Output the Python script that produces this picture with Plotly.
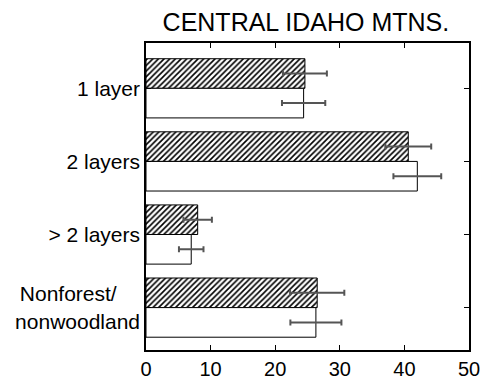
import plotly.graph_objects as go

categories = ["1 layer", "2 layers", "> 2 layers", "Nonforest/\u00a0\u00a0\u00a0\u00a0<br>nonwoodland"]
hatched_values = [24.6, 40.6, 8.0, 26.5]
hatched_errors = [3.4, 3.55, 2.2, 4.2]
open_values = [24.4, 42.0, 7.0, 26.3]
open_errors = [3.35, 3.7, 1.9, 3.95]
x_ticks = [0, 10, 20, 30, 40, 50]

fig = go.Figure()
fig.add_trace(go.Bar(
    y=categories, x=hatched_values, orientation="h",
    marker=dict(color="white", line=dict(color="black", width=1),
                pattern=dict(shape="/", fgcolor="black", bgcolor="white", size=4, solidity=0.4)),
    error_x=dict(type="data", array=hatched_errors, color="#555555", thickness=2, width=3),
    showlegend=False,
))
fig.add_trace(go.Bar(
    y=categories, x=open_values, orientation="h",
    marker=dict(color="white", line=dict(color="black", width=1)),
    error_x=dict(type="data", array=open_errors, color="#555555", thickness=2, width=3),
    showlegend=False,
))

fig.update_layout(
    template="none",
    width=485, height=371,
    margin=dict(l=138, r=24, t=35, b=29, autoexpand=False),
    barmode="group", bargap=0.19, bargroupgap=0,
    plot_bgcolor="white", paper_bgcolor="white",
    font=dict(family="Liberation Sans, Arial, sans-serif", color="black"),
    title=dict(text="CENTRAL IDAHO MTNS.", xref="paper", x=0.495, xanchor="center",
               yref="container", y=0.962, yanchor="middle",
               font=dict(size=25, color="black")),
    xaxis=dict(range=[0, 50], tickvals=x_ticks, ticks="inside", ticklen=5, tickcolor="black",
               showline=True, linecolor="black", linewidth=1.5, mirror="ticks", automargin=False,
               showgrid=False, zeroline=False, tickfont=dict(size=20)),
    yaxis=dict(type="category", categoryorder="array", categoryarray=categories,
               autorange=False, range=[3.58, -0.62], automargin=False,
               ticks="inside", ticklen=5, tickcolor="black",
               showline=True, linecolor="black", linewidth=1.5, mirror="ticks",
               showgrid=False, zeroline=False, tickfont=dict(size=21)),
)

fig.write_html("out.html")
